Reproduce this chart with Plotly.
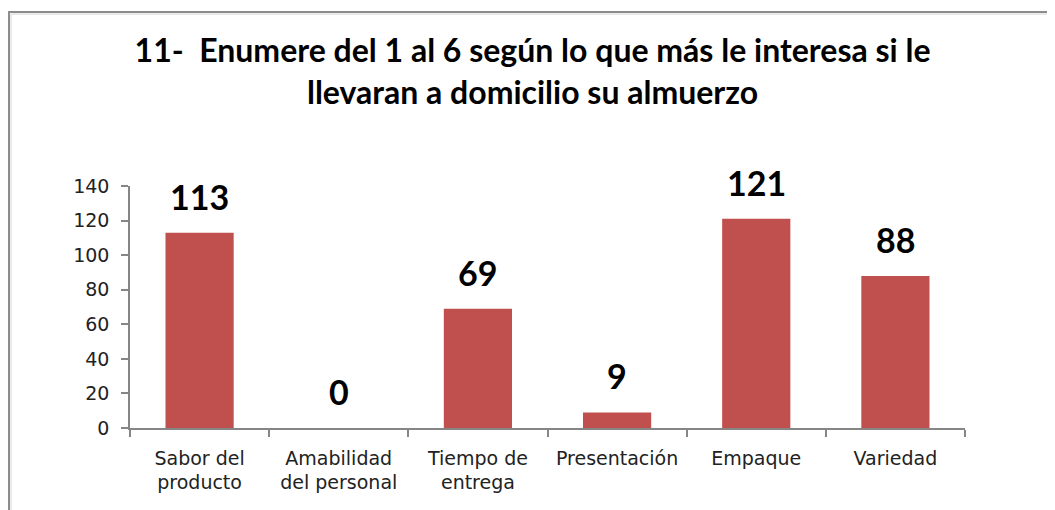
import plotly.graph_objects as go

categories = ["Sabor del<br>producto", "Amabilidad<br>del personal", "Tiempo de<br>entrega",
              "Presentación", "Empaque", "Variedad"]
values = [113, 0, 69, 9, 121, 88]
y_ticks = [0, 20, 40, 60, 80, 100, 120, 140]
title_text = "11-  Enumere del 1 al 6 según lo que más le interesa si le<br>llevaran a domicilio su almuerzo"

BAR = "#C0504D"
AXIS = "#868686"

fig = go.Figure(go.Bar(x=categories, y=values, marker=dict(color=BAR, line=dict(width=0)),
                       hoverinfo="skip"))

annotations = [dict(x=c, y=v, text=str(v), showarrow=False, xref="x", yref="y",
                    yanchor="bottom", yshift=14,
                    font=dict(family="Lato", size=34, color="#000000", weight="bold"))
               for c, v in zip(categories, values)]

# figure is placed 8px inside the page (body margin)
W, H = 1047, 502
L, T, R, B = 122, 178, 90, 82
pw, ph = W - L - R, H - T - B

fig.update_layout(
    width=W, height=H,
    paper_bgcolor="white", plot_bgcolor="white",
    margin=dict(l=L, r=R, t=T, b=B),
    showlegend=False,
    bargap=0.51,
    title=dict(text=title_text, x=0.501, xanchor="center", xref="container", y=0.892, yanchor="middle",
               font=dict(family="Lato", size=32, color="#000000", weight="bold")),
    annotations=annotations,
    shapes=[
        dict(type="rect", xref="paper", yref="paper", x0=(1 - L) / pw, x1=1.3, y0=-0.6,
             y1=(ph + T - 4) / ph,
             line=dict(color="#8c8c8c", width=2), fillcolor="rgba(0,0,0,0)", layer="below"),
        dict(type="rect", xref="paper", yref="paper", x0=(3 - L) / pw, x1=1.3, y0=-0.6,
             y1=(ph + T - 6) / ph,
             line=dict(color="#d4d4d4", width=1), fillcolor="rgba(0,0,0,0)", layer="below"),
    ],
)
fig.update_xaxes(showline=True, linecolor=AXIS, linewidth=1.5, ticks="outside", tickson="boundaries",
                 ticklen=7, tickcolor=AXIS, tickwidth=1.5, showgrid=False, zeroline=False,
                 ticklabelstandoff=12,
                 tickfont=dict(family="DejaVu Sans", size=19, color="#222222"), fixedrange=True)
fig.update_yaxes(range=[0, 140], tickvals=y_ticks, showline=True, linecolor=AXIS, linewidth=1.5,
                 ticks="outside", ticklen=7, tickcolor=AXIS, tickwidth=1.5, showgrid=False,
                 zeroline=False, ticklabelstandoff=8,
                 tickfont=dict(family="DejaVu Sans", size=19, color="#222222"), fixedrange=True)

fig.write_html("out.html", config={"displayModeBar": False})
